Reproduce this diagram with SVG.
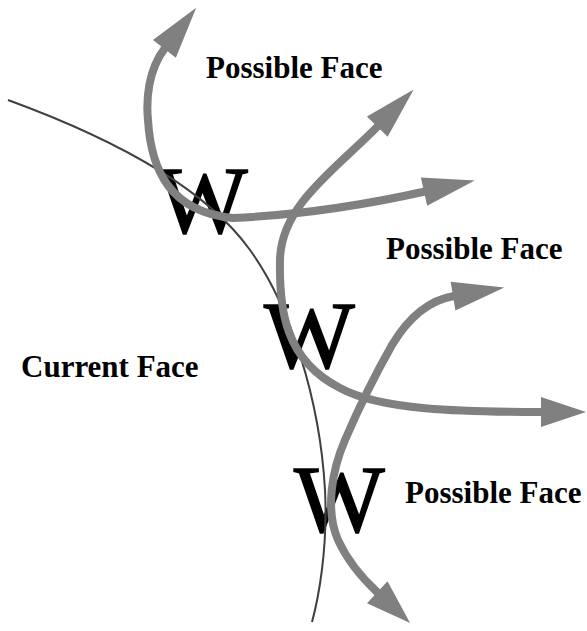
<svg xmlns="http://www.w3.org/2000/svg" width="587" height="631" viewBox="0 0 587 631">
<style>
.lbl{font-family:"Liberation Serif","Times New Roman",serif;font-weight:bold;font-size:31px;fill:#000}
.w{font-family:"Liberation Serif","Times New Roman",serif;font-size:96px;fill:#000;stroke:#000;stroke-width:1.6px}
.arr{fill:none;stroke:#808080;stroke-width:8}
.edge{fill:none;stroke:#404040;stroke-width:2}
</style>
<defs>
<marker id="headL" markerUnits="userSpaceOnUse" markerWidth="52" markerHeight="29" refX="1" refY="14.5" orient="auto-start-reverse" overflow="visible">
<path d="M0,0 L52,14.5 L0,29 z" fill="#808080"/>
</marker>
<marker id="headS" markerUnits="userSpaceOnUse" markerWidth="45" markerHeight="30" refX="1" refY="15" orient="auto-start-reverse" overflow="visible">
<path d="M0,0 L45,15 L0,30 z" fill="#808080"/>
</marker>
</defs>
<g id="labels">
<text class="lbl" x="206" y="78">Possible Face</text>
<text class="lbl" x="386" y="259">Possible Face</text>
<text class="lbl" x="405" y="503">Possible Face</text>
<text class="lbl" x="21" y="377">Current Face</text>
</g>
<g id="w1"><text class="w" x="157" y="233">W</text></g>
<g id="w2"><text class="w" x="264" y="368">W</text></g>
<g id="w3"><text class="w" x="294" y="532">W</text></g>
<g id="face-edge">
<path class="edge" d="M8,100 C90,130 200,180 250,250 C290,305 320,400 325,490 C328,550 318,600 312,622"/>
</g>
<g id="connectors">
<path class="arr" d="M165,48 C148,70 146,100 148,120 C151,170 170,212 233,218 C300,215 360,206 425,191.5" marker-start="url(#headL)" marker-end="url(#headL)"/>
<path class="arr" d="M378,126 C335,170 281,205 280,260 C279,310 285,360 340,388 C380,410 460,412 542,412" marker-start="url(#headL)" marker-end="url(#headS)"/>
<path class="arr" d="M454,296 C430,300 410,315 392,345 C375,375 360,405 345,440 C332,470 325,510 338,540 C348,562 362,578 378,593" marker-start="url(#headL)" marker-end="url(#headS)"/>
</g>
</svg>
